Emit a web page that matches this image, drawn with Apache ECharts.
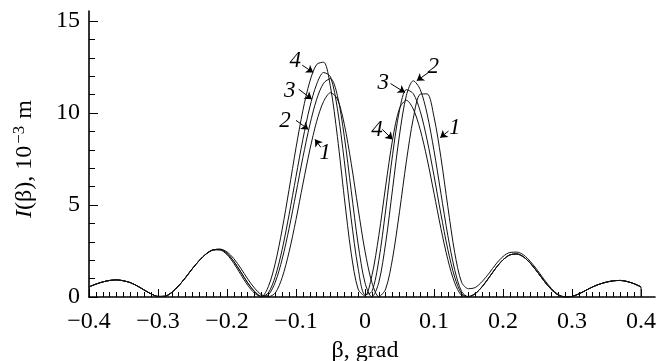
<!DOCTYPE html>
<html>
<head>
<meta charset="utf-8">
<script src="https://cdn.jsdelivr.net/npm/echarts@6/dist/echarts.min.js"></script>
<style>
  html, body {margin: 0; padding: 0; background: #fff;}
  #chart {width: 670px; height: 361px;}
</style>
</head>
<body>
<div id="chart"></div>
<script>
// beta grid, grad (step 0.01 from -0.4 to 0.4)
const beta = Array.from({length: 81}, (_, i) => (i - 40) / 100);

// I(beta), 10^-3 m
const curve1 = [
  0.55, 0.70, 0.82, 0.90, 0.93, 0.88, 0.78, 0.60, 0.38, 0.17, 0.03, 0.04, 0.25, 0.61, 1.06, 1.55, 1.99, 2.35, 2.56,
  2.60, 2.45, 2.08, 1.56, 0.98, 0.48, 0.12, 0.02, 0.22, 1.06, 2.45, 4.21, 6.14, 7.99, 9.55, 10.63, 11.10,
  10.76, 9.39, 7.27, 4.81, 2.49, 0.79, 0.02, 0.44, 2.11, 4.63, 7.38, 9.71, 11.02, 11.04, 9.79, 7.59, 4.92, 2.42, 0.80, 0.45,
  0.52, 0.85, 1.30, 1.80, 2.20, 2.42, 2.44, 2.28, 1.92, 1.45, 0.93, 0.47, 0.14, 0.01,
  0.03, 0.17, 0.36, 0.55, 0.70, 0.81, 0.88, 0.90, 0.84, 0.72, 0.55
];
const curve2 = [
  0.55, 0.70, 0.82, 0.90, 0.93, 0.88, 0.78, 0.60, 0.38, 0.17, 0.03, 0.04, 0.25, 0.61, 1.06, 1.55, 1.99, 2.35, 2.56,
  2.59, 2.37, 1.93, 1.36, 0.77, 0.30, 0.03, 0.12, 0.81, 2.06, 3.73, 5.64, 7.59, 9.35, 10.75, 11.62, 11.87,
  10.95, 8.73, 5.79, 2.88, 0.77, 0.00, 0.79, 2.94, 5.88, 8.81, 10.96, 11.75, 11.28, 9.95, 7.96, 5.64, 3.35, 1.48, 0.30, 0.01,
  0.19, 0.57, 1.07, 1.59, 2.02, 2.29, 2.34, 2.17, 1.82, 1.35, 0.85, 0.41, 0.11, 0.00,
  0.03, 0.17, 0.36, 0.55, 0.70, 0.81, 0.88, 0.90, 0.84, 0.72, 0.55
];
const curve3 = [
  0.55, 0.70, 0.82, 0.90, 0.93, 0.88, 0.78, 0.60, 0.38, 0.17, 0.03, 0.04, 0.25, 0.61, 1.06, 1.55, 1.99, 2.35, 2.56,
  2.59, 2.37, 1.93, 1.36, 0.77, 0.30, 0.02, 0.23, 1.12, 2.59, 4.48, 6.55, 8.57, 10.32, 11.57, 12.20, 11.96,
  10.23, 7.40, 4.24, 1.57, 0.13, 0.30, 1.99, 4.73, 7.74, 10.15, 11.27, 11.05, 10.10, 8.54, 6.59, 4.51, 2.59, 1.08, 0.19, 0.01,
  0.19, 0.57, 1.07, 1.59, 2.02, 2.29, 2.34, 2.17, 1.82, 1.35, 0.85, 0.41, 0.11, 0.00,
  0.03, 0.17, 0.36, 0.55, 0.70, 0.81, 0.88, 0.90, 0.84, 0.72, 0.55
];
const curve4 = [
  0.55, 0.70, 0.82, 0.90, 0.93, 0.88, 0.78, 0.60, 0.38, 0.17, 0.03, 0.04, 0.25, 0.61, 1.06, 1.55, 1.99, 2.35, 2.56,
  2.55, 2.30, 1.82, 1.22, 0.64, 0.20, 0.02, 0.57, 1.84, 3.68, 5.85, 8.11, 10.14, 11.71, 12.64, 12.76, 11.41,
  8.72, 5.41, 2.38, 0.43, 0.06, 1.16, 3.33, 6.04, 8.56, 10.25, 10.69, 10.21, 9.10, 7.51, 5.64, 3.73, 2.04, 0.77, 0.09, 0.03,
  0.19, 0.57, 1.07, 1.59, 2.02, 2.29, 2.34, 2.17, 1.82, 1.35, 0.85, 0.41, 0.11, 0.00,
  0.03, 0.17, 0.36, 0.55, 0.70, 0.81, 0.88, 0.90, 0.84, 0.72, 0.55
];
const curves = [curve1, curve2, curve3, curve4];

// curve numbers and their arrows (data coordinates)
const tagText = ['4', '3', '2', '1', '3', '2', '4', '1'];
const tagPos = [[-0.101, 12.84], [-0.109, 11.20], [-0.116, 9.56], [-0.058, 7.84],
  [0.0265, 11.66], [0.099, 12.48], [0.0174, 9.06], [0.130, 9.20]];
const arrowFrom = [[-0.091, 12.60], [-0.096, 11.29], [-0.100, 9.60], [-0.064, 8.13],
  [0.037, 11.60], [0.092, 12.20], [0.025, 9.11], [0.121, 9.02]];
const arrowTo = [[-0.075, 12.20], [-0.077, 10.75], [-0.082, 9.11], [-0.0725, 8.57],
  [0.058, 11.11], [0.075, 11.75], [0.040, 8.56], [0.109, 8.66]];

const serif = 'Liberation Serif';
const ink = '#000';

const chart = echarts.init(document.getElementById('chart'));

const lineSeries = curves.map((vals) => ({
  type: 'line',
  xAxisIndex: 0,
  yAxisIndex: 0,
  data: beta.map((b, i) => [b, vals[i]]),
  smooth: 0.3,
  showSymbol: false,
  silent: true,
  lineStyle: {color: '#111', width: 1}
}));

const last = beta.length - 1;

chart.setOption({
  animation: false,
  backgroundColor: '#fff',
  grid: [
    {left: 89, right: 29, top: 21, bottom: 64, outerBoundsMode: 'none'},
    {left: 89, right: 15, top: 11, bottom: 64, outerBoundsMode: 'none'}
  ],
  xAxis: [
    {
      type: 'value',
      gridIndex: 0,
      min: -0.4,
      max: 0.4,
      interval: 0.1,
      axisLine: {show: false, onZero: false},
      axisTick: {show: true, inside: true, length: 8, lineStyle: {color: ink, width: 1}},
      minorTick: {show: true, splitNumber: 10, length: 5, lineStyle: {color: ink, width: 1}},
      splitLine: {show: false},
      axisLabel: {
        color: ink,
        fontFamily: serif,
        fontSize: 24,
        margin: 13,
        formatter: (v) => Math.abs(v) < 1e-9 ? '0' : v.toFixed(1).replace('-', '\u2212')
      },
      name: 'β, grad',
      nameLocation: 'middle',
      nameGap: 39,
      nameTextStyle: {color: ink, fontFamily: serif, fontSize: 24}
    },
    {
      type: 'value',
      gridIndex: 1,
      min: 0,
      max: 1,
      axisLine: {show: true, onZero: false, lineStyle: {color: ink, width: 1.6}},
      axisTick: {show: false},
      axisLabel: {show: false},
      splitLine: {show: false}
    }
  ],
  yAxis: [
    {
      type: 'value',
      gridIndex: 0,
      min: 0,
      max: 15,
      interval: 5,
      axisLine: {show: false, onZero: false},
      axisTick: {show: true, inside: true, length: 9, lineStyle: {color: ink, width: 1}},
      minorTick: {show: true, splitNumber: 5, length: 6, lineStyle: {color: ink, width: 1}},
      splitLine: {show: false},
      axisLabel: {color: ink, fontFamily: serif, fontSize: 24, margin: 9},
      name: '{i|I}{n|(β), 10}{sup|\u22123}{n| m}',
      nameLocation: 'middle',
      nameRotate: 90,
      nameGap: 50,
      nameTextStyle: {
        color: ink,
        fontFamily: serif,
        fontSize: 24,
        align: 'center',
        rich: {
          i: {fontFamily: serif, fontSize: 24, fontStyle: 'italic', color: ink},
          n: {fontFamily: serif, fontSize: 24, color: ink},
          sup: {fontFamily: serif, fontSize: 17, color: ink, padding: [0, 1, 11, 2]}
        }
      }
    },
    {
      type: 'value',
      gridIndex: 1,
      min: 0,
      max: 1,
      axisLine: {show: true, onZero: false, lineStyle: {color: ink, width: 1.6}},
      axisTick: {show: false},
      axisLabel: {show: false},
      splitLine: {show: false}
    }
  ],
  series: [
    ...lineSeries,
    {
      // curves end at beta = 0.4 with a drop to the axis
      type: 'line',
      xAxisIndex: 0,
      yAxisIndex: 0,
      data: [[beta[last], curve1[last]], [beta[last], 0]],
      showSymbol: false,
      silent: true,
      lineStyle: {color: '#111', width: 1}
    },
    {
      type: 'lines',
      coordinateSystem: 'cartesian2d',
      xAxisIndex: 0,
      yAxisIndex: 0,
      symbol: ['none', 'arrow'],
      symbolSize: 7,
      silent: true,
      lineStyle: {color: ink, width: 1, opacity: 1},
      data: arrowFrom.map((p, i) => ({coords: [p, arrowTo[i]]}))
    },
    {
      type: 'scatter',
      xAxisIndex: 0,
      yAxisIndex: 0,
      symbolSize: 0,
      silent: true,
      itemStyle: {opacity: 1, color: ink},
      data: tagPos.map((p, i) => ({value: p, name: tagText[i]})),
      label: {
        show: true,
        position: 'inside',
        formatter: (p) => p.name,
        color: ink,
        opacity: 1,
        textBorderWidth: 0,
        fontFamily: serif,
        fontStyle: 'italic',
        fontSize: 23
      }
    }
  ]
});
</script>
</body>
</html>
